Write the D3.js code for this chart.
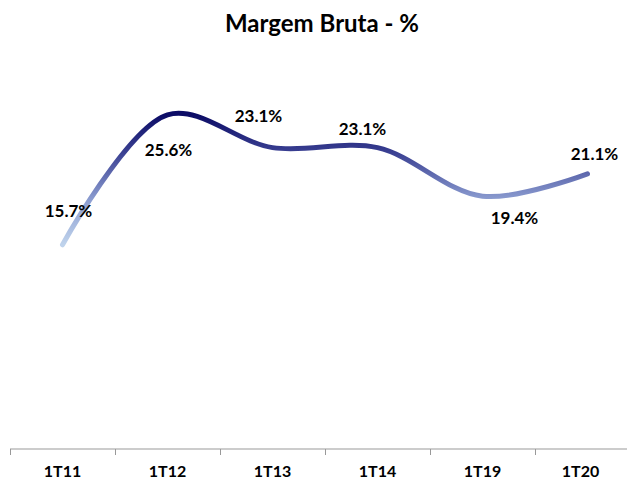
<!DOCTYPE html>
<html>
<head>
<meta charset="utf-8">
<script src="https://cdn.jsdelivr.net/npm/d3@7"></script>
<style>
  body { margin: 0; background: #fff; }
  text { font-family: Lato, "Open Sans", sans-serif; font-weight: bold; fill: #000; }
</style>
</head>
<body>
<div id="chart"></div>
<script>
// Data
var quarters = ["1T11", "1T12", "1T13", "1T14", "1T19", "1T20"];
var margin = [15.7, 25.6, 23.1, 23.1, 19.4, 21.1];

// Label nudges (layout only), [dx, dy] from the point
var labelNudge = [[6, -28], [1, 41], [-14, -26], [-15, -13], [32, 28], [7, -14]];

var svgWidth = 627;
var svgHeight = 480;

var svg = d3.select("#chart")
  .append("svg")
  .attr("width", svgWidth)
  .attr("height", svgHeight);

// Scales
var xScale = d3.scaleBand()
  .domain(quarters)
  .range([10, 640]);

var yScale = d3.scaleLinear()
  .domain([0, 30])
  .range([451, 57]);

// Title
svg.append("text")
  .attr("x", 322)
  .attr("y", 32)
  .attr("text-anchor", "middle")
  .style("font-size", "24px")
  .text("Margem Bruta - %");

// Bottom axis: ticks on category boundaries
var axisG = svg.append("g")
  .attr("transform", "translate(0, 449)");

axisG.append("line")
  .attr("x1", 10).attr("x2", 627)
  .attr("stroke", "#999").attr("stroke-width", 1);

axisG.selectAll(".tick")
  .data(quarters)
  .enter()
  .append("line")
  .attr("x1", d => xScale(d) + 0.5)
  .attr("x2", d => xScale(d) + 0.5)
  .attr("y1", 0).attr("y2", 6)
  .attr("stroke", "#999");

axisG.selectAll(".lbl")
  .data(quarters)
  .enter()
  .append("text")
  .attr("x", d => xScale(d) + xScale.bandwidth() / 2 - (d === "1T20" ? 7 : 0))
  .attr("y", 28)
  .attr("text-anchor", "middle")
  .style("font-size", "16px")
  .text(d => d);

// Gradient by value (light low, dark high)
var defs = svg.append("defs");
var grad = defs.append("linearGradient")
  .attr("id", "lineGrad")
  .attr("gradientUnits", "userSpaceOnUse")
  .attr("x1", 0).attr("x2", 0)
  .attr("y1", yScale(d3.min(margin)))
  .attr("y2", yScale(d3.max(margin)));
grad.append("stop").attr("offset", "0%").attr("stop-color", "#bfd3ec");
grad.append("stop").attr("offset", "35%").attr("stop-color", "#8b9cd0");
grad.append("stop").attr("offset", "70%").attr("stop-color", "#3c4294");
grad.append("stop").attr("offset", "100%").attr("stop-color", "#0c0c66");

var line = d3.line()
  .x((d, i) => xScale(quarters[i]) + xScale.bandwidth() / 2)
  .y(d => yScale(d))
  .curve(d3.curveCatmullRom.alpha(0.5));

svg.append("path")
  .datum(margin)
  .attr("d", line)
  .attr("fill", "none")
  .attr("stroke", "url(#lineGrad)")
  .attr("stroke-width", 5)
  .attr("stroke-linecap", "round");

// Data labels
svg.selectAll(".val")
  .data(margin)
  .enter()
  .append("text")
  .attr("x", (d, i) => xScale(quarters[i]) + xScale.bandwidth() / 2 + labelNudge[i][0])
  .attr("y", (d, i) => yScale(d) + labelNudge[i][1])
  .attr("text-anchor", "middle")
  .style("font-size", "17px")
  .text(d => d.toFixed(1) + "%");
</script>
</body>
</html>
